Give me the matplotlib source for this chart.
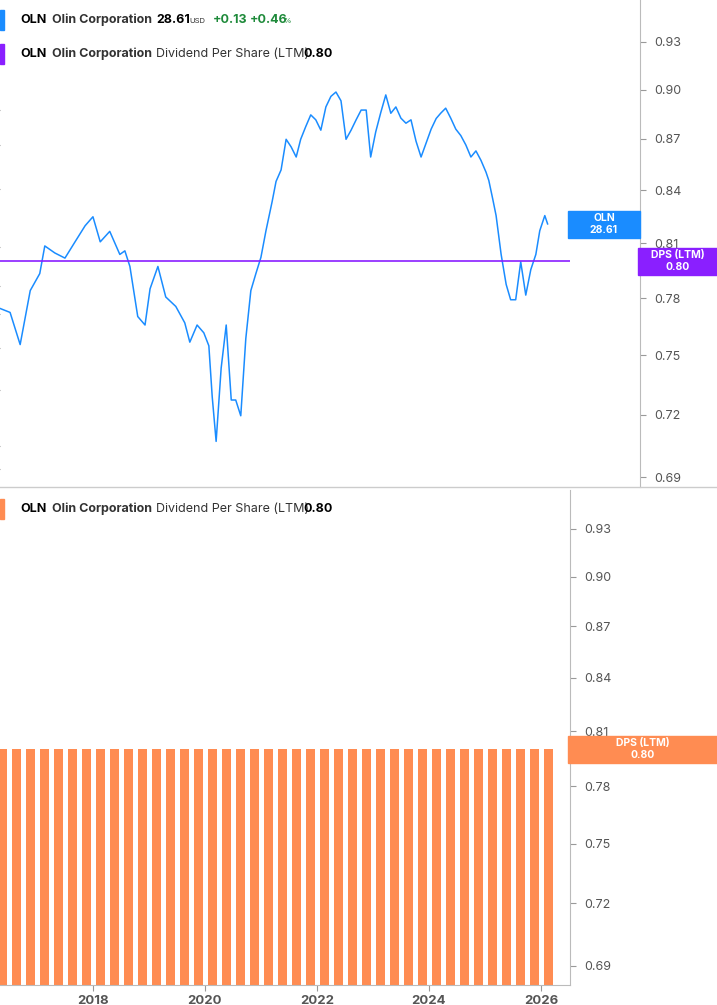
import matplotlib
matplotlib.use("Agg")
import matplotlib.pyplot as plt
import matplotlib.ticker as mt

W, H = 717, 1005
plt.rcParams['font.family'] = ['Inter', 'DejaVu Sans']

# price series (decimal year, price)
years = [2016.34,2016.52,2016.70,2016.88,2017.05,2017.14,2017.32,2017.50,2017.68,2017.86,2018.0,
         2018.13,2018.30,2018.48,2018.57,2018.66,2018.80,2018.93,2019.02,2019.16,2019.30,2019.48,
         2019.64,2019.73,2019.86,2019.98,2020.07,2020.13,2020.20,2020.29,2020.38,2020.47,2020.55,
         2020.64,2020.73,2020.82,2020.91,2021.00,2021.09,2021.20,2021.27,2021.36,2021.45,2021.54,
         2021.63,2021.71,2021.80,2021.89,2021.98,2022.07,2022.16,2022.25,2022.34,2022.43,2022.52,
         2022.61,2022.70,2022.79,2022.88,2022.96,2023.05,2023.14,2023.23,2023.32,2023.41,2023.50,
         2023.59,2023.68,2023.77,2023.86,2023.95,2024.04,2024.13,2024.21,2024.30,2024.39,2024.48,
         2024.57,2024.66,2024.75,2024.84,2024.93,2025.02,2025.07,2025.14,2025.20,2025.29,2025.38,
         2025.46,2025.55,2025.64,2025.73,2025.82,2025.91,2025.98,2026.07,2026.12]
prices = [17.6,17.2,14.3,19.5,21.5,25.2,24.2,23.5,25.8,28.3,29.8,
          25.8,27.4,24.0,24.5,22.4,16.8,16.0,19.7,22.4,18.8,17.8,
          16.2,14.5,16.0,15.3,14.2,10.6,8.2,12.5,16.0,10.4,10.4,
          9.5,14.8,19.5,21.5,23.6,27.5,32.5,36.5,39.0,46.5,44.5,
          42.0,46.5,50.0,53.5,52.0,49.0,56.0,59.5,61.0,58.0,46.5,
          49.0,52.0,55.0,55.0,42.0,48.5,54.2,60.0,54.0,56.0,52.5,
          51.0,52.0,46.0,42.0,45.5,49.3,52.4,54.0,55.6,52.5,49.3,
          47.5,45.0,42.0,43.5,41.2,38.5,36.7,33.0,30.0,24.0,20.2,
          18.5,18.5,23.0,19.0,22.0,24.0,27.5,30.0,28.6]

bar_years = [2016.30 + 0.25*i for i in range(40)]
dps = [0.80]*len(bar_years)
price_ticks = [7, 8, 11, 14, 17, 20, 25, 35, 45, 55, 75, 95]
dps_ticks = [0.69, 0.72, 0.75, 0.78, 0.81, 0.84, 0.87, 0.90, 0.93]
year_ticks = [2018, 2020, 2022, 2024, 2026]

BLUE = '#1a8cff'; PURPLE = '#8a1fff'; ORANGE = '#ff8c52'
X0, X1 = 2016.34, 2026.52

fig = plt.figure(figsize=(W/100, H/100), dpi=100)
def ax_at(x, y, w, h):
    return fig.add_axes([x/W, 1-(y+h)/H, w/W, h/H])

# ---- top panel
ax = ax_at(0, 0, 570, 487)
ax.plot(years, prices, color=BLUE, lw=1.1)
ax.set_yscale('log'); ax.set_ylim(6.31, 103.5); ax.set_xlim(X0, X1)
for s in ax.spines.values(): s.set_visible(False)
ax.set_xticks([]); ax.yaxis.tick_right()
ax.yaxis.set_major_locator(mt.FixedLocator(price_ticks)); ax.yaxis.set_minor_locator(mt.NullLocator())
ax.set_yticklabels([f'{v:.2f}' for v in price_ticks], fontsize=9, color='#555')
ax.tick_params(axis='y', length=4, color='#999', pad=6)

ax2 = ax.twinx()
ax2.set_yscale('log'); ax2.set_ylim(0.6853, 0.957)
ax2.axhline(0.80, color=PURPLE, lw=1.2)
for s in ax2.spines.values(): s.set_visible(False)
ax2.spines['right'].set_visible(True); ax2.spines['right'].set_position(('axes', 640/570))
ax2.spines['right'].set_color('#bbb')
ax2.yaxis.set_major_locator(mt.FixedLocator(dps_ticks)); ax2.yaxis.set_minor_locator(mt.NullLocator())
ax2.set_yticklabels([f'{v:.2f}' for v in dps_ticks], fontsize=9, color='#555')
ax2.tick_params(axis='y', length=4, color='#999', pad=6)

# ---- bottom panel
bx = ax_at(0, 490, 570, 495)
bx.bar(bar_years, dps, width=0.16, color=ORANGE, align='edge')
bx.set_yscale('log'); bx.set_ylim(0.681, 0.955); bx.set_xlim(X0, X1)
for s in bx.spines.values(): s.set_visible(False)
bx.spines['right'].set_visible(True); bx.spines['right'].set_color('#bbb')
bx.spines['bottom'].set_visible(True); bx.spines['bottom'].set_color('#bbb')
bx.yaxis.tick_right()
bx.yaxis.set_major_locator(mt.FixedLocator(dps_ticks)); bx.yaxis.set_minor_locator(mt.NullLocator())
bx.set_yticklabels([f'{v:.2f}' for v in dps_ticks], fontsize=9, color='#555')
bx.tick_params(axis='y', length=4, color='#999', pad=6)
bx.set_xticks(year_ticks); bx.set_xticklabels([str(v) for v in year_ticks], fontsize=9.5, color='#555', fontweight='bold')
bx.tick_params(axis='x', length=4, color='#999')

fig.add_artist(plt.Line2D([0, 1], [1-487/H]*2, color='#ccc', lw=1, transform=fig.transFigure))

def px(x, y): return (x/W, 1-y/H)
def marker(y, color):
    fig.add_artist(plt.Rectangle(px(0, y+10), 4/W, 20/H, color=color, transform=fig.transFigure))

marker(20, BLUE)
fig.text(*px(20, 20), 'OLN', fontsize=9, fontweight='bold', va='center')
fig.text(*px(52, 20), 'Olin Corporation', fontsize=9, fontweight='bold', color='#333', va='center')
fig.text(*px(156, 20), '28.61', fontsize=9, fontweight='bold', va='center')
fig.text(*px(189, 21), 'USD', fontsize=5.5, color='#333', va='center')
fig.text(*px(213, 20), '+0.13', fontsize=9, fontweight='bold', color='#1e8a3a', va='center')
fig.text(*px(250, 20), '+0.46', fontsize=9, fontweight='bold', color='#1e8a3a', va='center')
fig.text(*px(283, 21), '%', fontsize=5.5, color='#1e8a3a', va='center')
for yy, col in [(54, PURPLE), (509, ORANGE)]:
    marker(yy, col)
    fig.text(*px(20, yy), 'OLN', fontsize=9, fontweight='bold', va='center')
    fig.text(*px(52, yy), 'Olin Corporation', fontsize=9, fontweight='bold', color='#333', va='center')
    fig.text(*px(156, yy), 'Dividend Per Share (LTM)', fontsize=9, color='#333', va='center')
    fig.text(*px(303, yy), '0.80', fontsize=9, fontweight='bold', va='center')

def tag(x0, x1, y0, y1, color, l1, l2):
    fig.add_artist(plt.Rectangle(px(x0, y1), (x1-x0)/W, (y1-y0)/H, color=color, transform=fig.transFigure))
    xc = (x0+x1)/2
    fig.text(*px(xc, y0+7), l1, color='white', fontsize=7.5, fontweight='bold', ha='center', va='center')
    fig.text(*px(xc, y0+19), l2, color='white', fontsize=7.5, fontweight='bold', ha='center', va='center')
tag(568, 640, 211, 238, BLUE, 'OLN', '28.61')
tag(638, 717, 248, 275, PURPLE, 'DPS (LTM)', '0.80')
tag(568, 717, 736, 763, ORANGE, 'DPS (LTM)', '0.80')

fig.savefig('out.png', dpi=100)
